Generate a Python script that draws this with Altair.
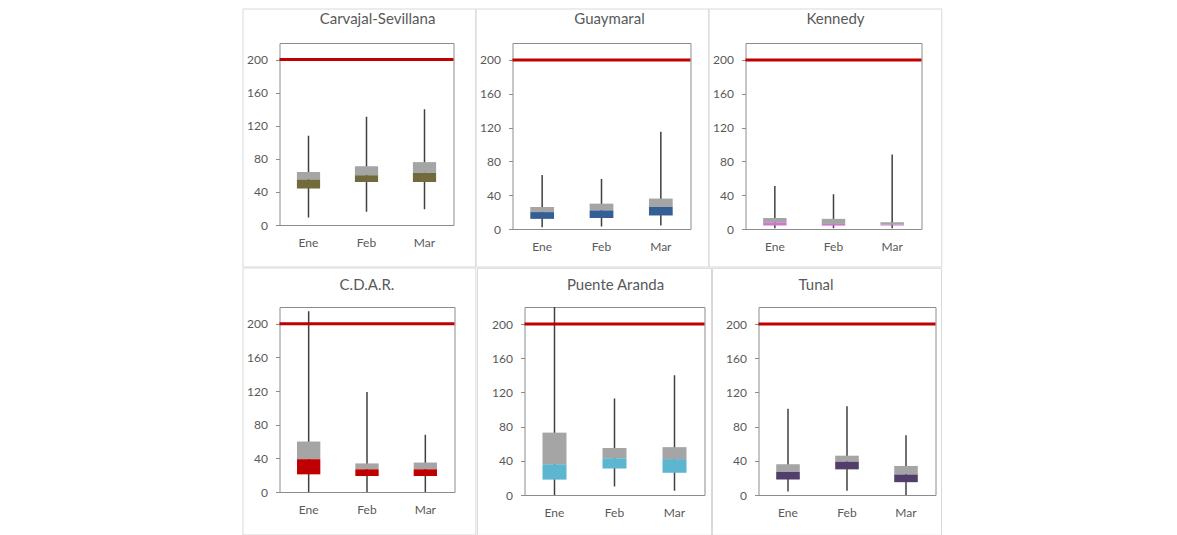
import altair as alt
import pandas as pd

months = ["Ene", "Feb", "Mar"]
stations = ["Carvajal-Sevillana", "Guaymaral", "Kennedy", "C.D.A.R.", "Puente Aranda", "Tunal"]
colors = ["#716A3C", "#335F94", "#CC79CC", "#C00000", "#5DB5CF", "#513E6B"]

mins = [[9, 16, 19], [2, 3, 4], [1, 1, 1], [0, 0, 0], [0, 10, 5], [4, 5, 0]]
q1s = [[44, 52, 52], [12, 13, 16], [4, 4, 4], [21, 19, 19], [18, 31, 26], [18, 30, 15]]
medians = [[55, 60, 63], [20, 22, 26], [8, 6, 5], [39, 27, 27], [36, 43, 42], [27, 39, 24]]
q3s = [[64, 71, 76], [26, 30, 36], [13, 12, 8], [60, 34, 35], [73, 55, 56], [36, 46, 34]]
maxs = [[108, 131, 140], [64, 59, 115], [51, 41, 88], [215, 119, 68], [230, 113, 140], [101, 104, 70]]
limit = [200]
y_ticks = [0, 40, 80, 120, 160, 200]

FONT = "Lato"
TXT = "#595959"

# layout per panel: width, height, border box (relative to plot), title dx / dy
layout = [
    dict(W=174, H=182, bx=(-36.5, 196.3), by=(-34, 224), dx=11, ty=-24),
    dict(W=178, H=186, bx=(-36.5, 196.3), by=(-34, 224), dx=8, ty=-24),
    dict(W=176, H=186, bx=(-36.5, 196.3), by=(-34, 224), dx=2, ty=-24),
    dict(W=175, H=185, bx=(-36.5, 196.3), by=(-39, 228), dx=0, ty=-22),
    dict(W=180, H=188, bx=(-47, 187), by=(-38.7, 228.3), dx=1, ty=-22),
    dict(W=177, H=188, bx=(-46, 183), by=(-38.7, 228.3), dx=-31, ty=-22),
]


def panel(i):
    L = layout[i]
    df = pd.DataFrame({
        "mes": months,
        "min": mins[i],
        "q1": q1s[i],
        "median": medians[i],
        "q3": q3s[i],
        "max": maxs[i],
    })
    xenc = alt.X("mes:N", sort=months,
                 scale=alt.Scale(paddingInner=0, paddingOuter=0),
                 axis=alt.Axis(title=None, labelAngle=0, ticks=False, domain=False,
                               labelPadding=12))
    yscale = alt.Scale(domain=[0, 220], nice=False, zero=True)
    yaxis = alt.Axis(title=None, values=y_ticks, tickSize=4, labelPadding=8,
                     domain=False, grid=False)
    base = alt.Chart(df)
    whisk = base.mark_rule(color="#404040", strokeWidth=1.5, clip=True).encode(
        x=xenc, y=alt.Y("min:Q", scale=yscale, axis=yaxis), y2="max:Q")
    upper = base.mark_bar(color="#A5A5A5", width=alt.RelativeBandSize(0.4)).encode(
        x=xenc, y=alt.Y("median:Q", scale=yscale, axis=yaxis), y2="q3:Q")
    lower = base.mark_bar(color=colors[i], width=alt.RelativeBandSize(0.4)).encode(
        x=xenc, y=alt.Y("q1:Q", scale=yscale, axis=yaxis), y2="median:Q")
    lim = alt.Chart(pd.DataFrame({"v": limit})).mark_rule(color="#C00000", strokeWidth=3).encode(
        y=alt.Y("v:Q", scale=yscale, axis=yaxis))
    border = alt.Chart(pd.DataFrame({"a": [0]})).mark_rect(
        fillOpacity=0, stroke="#D9D9D9", strokeWidth=1).encode(
        x=alt.value(L["bx"][0]), x2=alt.value(L["bx"][1]),
        y=alt.value(L["by"][0]), y2=alt.value(L["by"][1]))
    title = alt.Chart(pd.DataFrame({"name": [stations[i]]})).mark_text(
        font=FONT, fontSize=15, color=TXT, align="center", baseline="middle").encode(
        text="name:N", x=alt.value(L["W"] / 2 + L["dx"]), y=alt.value(L["ty"]))
    return alt.layer(border, title, whisk, upper, lower, lim).properties(
        width=L["W"], height=L["H"])


p = [panel(i) for i in range(6)]
row1 = alt.hconcat(p[0], p[1], p[2], spacing=-3)
row2 = alt.hconcat(p[3], p[4], p[5], spacing=-1)
chart = alt.vconcat(row1, row2, spacing=-1).properties(
    padding={"left": 233.5, "top": 0, "right": 5, "bottom": 0},
    background="white",
).configure_view(stroke="#8C8C8C", strokeWidth=1).configure_axis(
    labelFont=FONT, labelFontSize=12, labelColor=TXT, tickColor="#8C8C8C", grid=False
)

chart.save("out.html", embed_options={"renderer": "svg", "actions": False})
